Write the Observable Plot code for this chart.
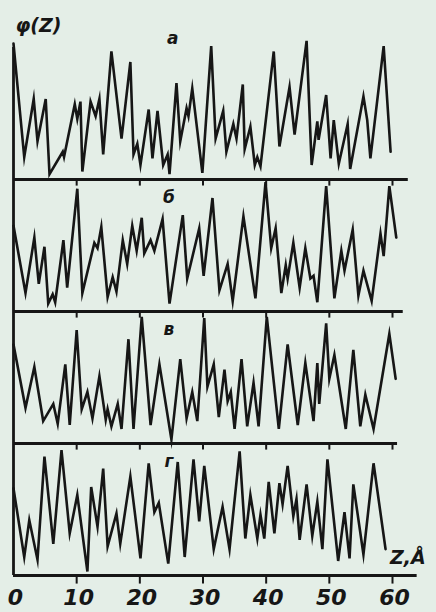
<!DOCTYPE html>
<html><head><meta charset="utf-8">
<script src="https://cdn.jsdelivr.net/npm/d3@7"></script>
<script src="https://cdn.jsdelivr.net/npm/@observablehq/plot@0.6"></script>
<style>
html,body{margin:0;padding:0;background:#e4eee7;}
</style></head><body><div id="chart"></div>
<script>
const panels = ["а","б","в","г"];
const xTicks = [0,10,20,30,40,50,60];
const yLabel = "φ(Z)";
const xLabel = "Z,Å";

const zA = [0,1.7,3.2,3.8,5.1,5.7,7.8,8.0,9.7,10.1,10.6,10.9,12.2,13.0,13.6,14.2,15.5,17.1,18.5,19.0,19.6,20.1,21.4,22.0,22.8,23.7,24.4,24.7,25.8,26.4,27.4,27.7,28.3,29.9,31.3,32.0,33.2,33.7,34.8,35.3,36.3,36.6,37.5,38.2,38.6,39.1,41.2,42.1,43.7,44.5,46.4,47.2,48.1,48.3,49.5,50.2,50.7,51.5,52.9,53.3,55.4,56.0,56.5,58.6,59.7];
const vA = [103,17,61,29,61,4,21,17,57,46,59,6,59,48,61,19,97,31,89,19,27,11,53,16,52,11,19,4,73,29,54,48,69,5,101,31,52,21,42,31,72,23,40,11,17,10,97,25,70,34,105,11,44,30,64,16,45,12,42,8,63,45,16,101,21];

const zB = [0,1.9,3.3,4.0,4.9,5.5,6.2,6.6,7.9,8.5,10.1,10.9,12.8,13.3,13.9,14.9,15.7,16.3,17.3,18.0,18.8,19.5,20.3,20.7,21.7,22.3,23.6,24.7,26.8,27.5,29.4,30.1,31.5,32.6,33.9,34.7,36.4,38.3,39.9,40.8,41.5,42.4,43.1,43.4,44.3,45.3,46.2,47.0,47.5,48.1,49.5,50.8,51.9,52.4,53.7,54.6,55.4,56.7,58.1,58.6,59.5,60.6];
const vB = [65,14,56,21,49,6,13,7,54,18,93,14,52,48,64,11,26,15,54,36,65,46,71,44,54,46,70,6,73,25,63,27,86,16,36,8,72,10,98,48,63,14,35,25,52,18,48,25,27,7,95,10,46,31,62,12,31,8,59,42,95,56];

const zC = [0,1.9,3.3,4.7,6.3,7.0,8.2,8.9,10.0,10.8,11.7,12.5,13.6,14.6,14.9,15.5,16.5,17.1,18.2,19.0,20.3,21.7,23.1,25.0,26.4,27.4,28.3,29.1,30.2,30.7,31.7,32.5,33.4,33.9,34.4,35.0,36.1,37.0,38.0,38.8,40.1,42.0,43.4,45.0,46.2,47.5,48.1,48.4,49.5,50.0,50.8,52.6,53.8,54.9,55.7,57.0,59.5,60.5];
const vC = [75,27,58,17,30,15,60,14,86,26,39,19,51,18,26,13,30,11,79,11,96,14,60,3,64,19,39,17,95,43,60,20,56,32,39,11,64,13,46,13,96,11,75,14,61,17,61,30,91,49,67,11,71,13,37,11,83,49];

const zD = [0,1.7,2.5,3.8,4.9,6.3,7.6,8.9,10.1,11.7,12.3,13.3,14.2,14.9,16.3,16.9,18.5,20.1,21.4,22.3,23.0,24.5,26.0,27.1,28.5,29.4,30.2,31.7,33.1,34.2,35.8,36.7,37.5,38.6,39.1,39.7,40.4,41.3,42.1,42.6,43.4,44.3,44.8,45.3,46.4,47.3,48.1,48.9,49.7,51.4,52.4,53.2,53.8,55.4,57.0,58.9];
const vD = [66,14,42,12,90,24,95,32,61,3,67,37,81,22,47,24,75,13,85,48,55,9,86,14,88,41,83,20,52,20,94,28,61,28,46,28,71,32,70,54,83,45,58,27,69,30,56,20,88,11,48,13,69,16,85,20];

// right end (in Z units) of each panel's base line
const baseEnd = [62.5, 61.7, 60.8, 63.9];

const series = [[zA,vA],[zB,vB],[zC,vC],[zD,vD]];
const rows = [];
series.forEach(([zs,vs],i)=>zs.forEach((z,j)=>rows.push({panel:panels[i], z, v:vs[j]})));
const topTicks = [];
panels.slice(1).forEach(p=>xTicks.slice(1).forEach(t=>topTicks.push({panel:p, z:t})));
const bases = panels.map((p,i)=>({panel:p, end:baseEnd[i]}));

const ink = "#161616";
const chart = Plot.plot({
  width:436, height:612,
  marginTop:46, marginBottom:37, marginLeft:13, marginRight:44,
  style:{background:"#e4eee7", fontFamily:"DejaVu Sans", color:ink, overflow:"visible"},
  x:{domain:[0,60], axis:null},
  y:{domain:[0,100], axis:null},
  fy:{domain:panels, axis:null, padding:0},
  marks:[
    Plot.ruleY(bases, {fy:"panel", y:0, x1:0, x2:"end", stroke:ink, strokeWidth:3}),
    Plot.ruleX([0], {stroke:ink, strokeWidth:2.8}),
    Plot.ruleX(topTicks, {x:"z", fy:"panel", y1:100, y2:95, stroke:ink, strokeWidth:2}),
    Plot.ruleX(xTicks.slice(1), {x:d=>d, fy:()=>"г", y1:0, y2:-6.5, stroke:ink, strokeWidth:2}),
    Plot.line(rows, {x:"z", y:"v", fy:"panel", z:"panel", stroke:ink, strokeWidth:2.6, strokeLinejoin:"miter", strokeMiterlimit:8}),
    Plot.text(xTicks, {x:d=>d, fy:()=>"г", frameAnchor:"bottom", dy:29, dx:2, text:d=>String(d), fontSize:22, fontStyle:"italic", fontWeight:"bold", fill:ink}),
    Plot.text(panels.slice(0,1), {fy:d=>d, x:25.2, y:107, text:d=>d, fontSize:17, fontStyle:"italic", fontWeight:"bold", fill:ink}),
    Plot.text(panels.slice(1), {fy:d=>d, x:24.6, y:86, text:d=>d, fontSize:17, fontStyle:"italic", fontWeight:"bold", fill:ink}),
    Plot.text([yLabel], {fy:()=>"а", x:0, y:116, dx:2, text:d=>d, textAnchor:"start", fontSize:19, fontStyle:"italic", fontWeight:"bold", fill:ink}),
    Plot.text([xLabel], {fy:()=>"г", x:59.6, y:13, text:d=>d, textAnchor:"start", fontSize:19, fontStyle:"italic", fontWeight:"bold", fill:ink})
  ]
});
document.getElementById("chart").appendChild(chart);
</script></body></html>
